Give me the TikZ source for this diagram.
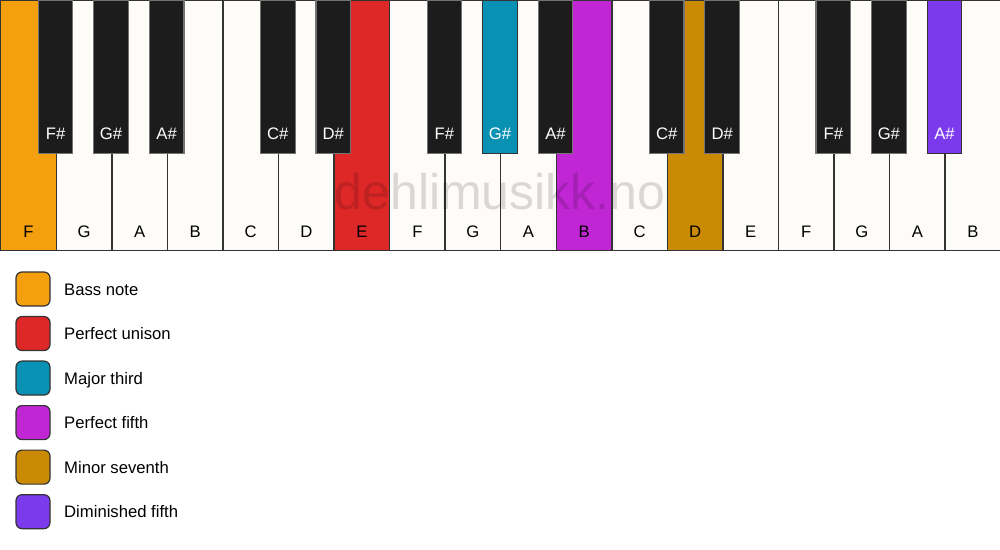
\documentclass[tikz,border=0pt]{standalone}
\usepackage{fontspec}
\setmainfont{Liberation Sans}
\usetikzlibrary{positioning}
\definecolor{bassnote}{HTML}{F39F0E}
\definecolor{unison}{HTML}{DE2727}
\definecolor{majthird}{HTML}{0891B2}
\definecolor{perffifth}{HTML}{C026D3}
\definecolor{minseventh}{HTML}{CA8A04}
\definecolor{dimfifth}{HTML}{7C3AED}
\definecolor{ivory}{HTML}{FDFCF9}
\definecolor{ebony}{HTML}{1C1C1C}
\tikzset{
  whitekey/.style={draw=black!80, line width=1.1pt, fill=ivory, anchor=north west,
    inner sep=0pt, minimum width=41.667pt, minimum height=187.5pt},
  blackkey/.style={draw=black!55, line width=0.8pt, fill=ebony, anchor=north,
    inner sep=0pt, minimum width=26pt, minimum height=114.75pt},
  whitelabel/.style={font=\fontsize{12.5}{14}\selectfont, text=black},
  blacklabel/.style={font=\fontsize{12.5}{14}\selectfont, text=white},
  watermark/.style={font=\fontsize{37.5}{40}\selectfont, text=black, text opacity=0.14},
  swatch/.style={draw=black!80, line width=0.9pt, rounded corners=4.5pt,
    minimum size=25.5pt, inner sep=0pt},
  legendtext/.style={font=\fontsize{12.5}{14}\selectfont, inner sep=0pt,
    text height=9pt, text depth=0pt}
}
\begin{document}
\begin{tikzpicture}[x=0.75pt, y=-0.75pt]
  \useasboundingbox (0,0) rectangle (1000,550);
  \fill[white] (0,0) rectangle (1000,550);
  \draw
    (0,0) node[whitekey, fill=bassnote] (F1){}
    (55.556,0) node[whitekey] (G1){}
    (111.111,0) node[whitekey] (A1){}
    (166.667,0) node[whitekey] (B1){}
    (222.222,0) node[whitekey] (C1){}
    (277.778,0) node[whitekey] (D1){}
    (333.333,0) node[whitekey, fill=unison] (E1){}
    (388.889,0) node[whitekey] (F2){}
    (444.444,0) node[whitekey] (G2){}
    (500,0) node[whitekey] (A2){}
    (555.556,0) node[whitekey, fill=perffifth] (B2){}
    (611.111,0) node[whitekey] (C2){}
    (666.667,0) node[whitekey, fill=minseventh] (D2){}
    (722.222,0) node[whitekey] (E2){}
    (777.778,0) node[whitekey] (F3){}
    (833.333,0) node[whitekey] (G3){}
    (888.889,0) node[whitekey] (A3){}
    (944.444,0) node[whitekey] (B3){};
  \draw
    (55.556,0) node[blackkey] (Fs1){}
    (111.111,0) node[blackkey] (Gs1){}
    (166.667,0) node[blackkey] (As1){}
    (277.778,0) node[blackkey] (Cs1){}
    (333.333,0) node[blackkey] (Ds1){}
    (444.444,0) node[blackkey] (Fs2){}
    (500,0) node[blackkey, draw=black!80, fill=majthird] (Gs2){}
    (555.556,0) node[blackkey] (As2){}
    (666.667,0) node[blackkey] (Cs2){}
    (722.222,0) node[blackkey] (Ds2){}
    (833.333,0) node[blackkey] (Fs3){}
    (888.889,0) node[blackkey] (Gs3){}
    (944.444,0) node[blackkey, draw=black!80, fill=dimfifth] (As3){};
  \begin{scope}[whitelabel]
    \path
      ([yshift=15pt]F1.south) node (tF1){F}
      ([yshift=15pt]G1.south) node (tG1){G}
      ([yshift=15pt]A1.south) node (tA1){A}
      ([yshift=15pt]B1.south) node (tB1){B}
      ([yshift=15pt]C1.south) node (tC1){C}
      ([yshift=15pt]D1.south) node (tD1){D}
      ([yshift=15pt]E1.south) node (tE1){E}
      ([yshift=15pt]F2.south) node (tF2){F}
      ([yshift=15pt]G2.south) node (tG2){G}
      ([yshift=15pt]A2.south) node (tA2){A}
      ([yshift=15pt]B2.south) node (tB2){B}
      ([yshift=15pt]C2.south) node (tC2){C}
      ([yshift=15pt]D2.south) node (tD2){D}
      ([yshift=15pt]E2.south) node (tE2){E}
      ([yshift=15pt]F3.south) node (tF3){F}
      ([yshift=15pt]G3.south) node (tG3){G}
      ([yshift=15pt]A3.south) node (tA3){A}
      ([yshift=15pt]B3.south) node (tB3){B};
  \end{scope}
  \begin{scope}[blacklabel]
    \path
      ([yshift=15pt]Fs1.south) node (tFs1){F\#}
      ([yshift=15pt]Gs1.south) node (tGs1){G\#}
      ([yshift=15pt]As1.south) node (tAs1){A\#}
      ([yshift=15pt]Cs1.south) node (tCs1){C\#}
      ([yshift=15pt]Ds1.south) node (tDs1){D\#}
      ([yshift=15pt]Fs2.south) node (tFs2){F\#}
      ([yshift=15pt]Gs2.south) node (tGs2){G\#}
      ([yshift=15pt]As2.south) node (tAs2){A\#}
      ([yshift=15pt]Cs2.south) node (tCs2){C\#}
      ([yshift=15pt]Ds2.south) node (tDs2){D\#}
      ([yshift=15pt]Fs3.south) node (tFs3){F\#}
      ([yshift=15pt]Gs3.south) node (tGs3){G\#}
      ([yshift=15pt]As3.south) node (tAs3){A\#};
  \end{scope}
  \node[watermark] (mark) at (500,191.5) {dehlimusikk.no};
  \node[swatch, fill=bassnote] (bass) at (33,289) {};
  \node[swatch, fill=unison, below=7pt of bass] (unis) {};
  \node[swatch, fill=majthird, below=7pt of unis] (third) {};
  \node[swatch, fill=perffifth, below=7pt of third] (fifth) {};
  \node[swatch, fill=minseventh, below=7pt of fifth] (seventh) {};
  \node[swatch, fill=dimfifth, below=7pt of seventh] (dimfif) {};
  \node[legendtext, right=10pt of bass] (lbass) {Bass note};
  \node[legendtext, right=10pt of unis] (lunis) {Perfect unison};
  \node[legendtext, right=10pt of third] (lthird) {Major third};
  \node[legendtext, right=10pt of fifth] (lfifth) {Perfect fifth};
  \node[legendtext, right=10pt of seventh] (lseventh) {Minor seventh};
  \node[legendtext, right=10pt of dimfif] (ldimfif) {Diminished fifth};
\end{tikzpicture}
\end{document}
